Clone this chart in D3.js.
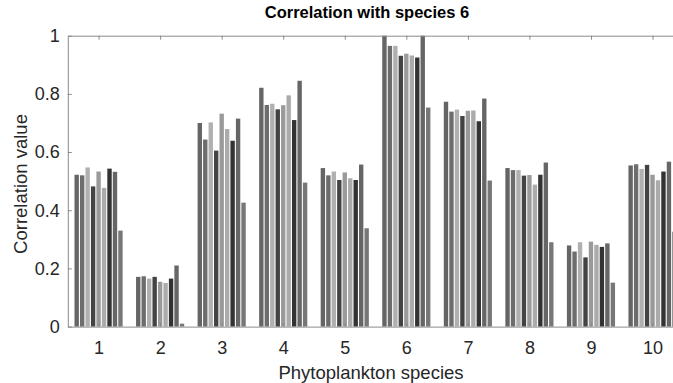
<!DOCTYPE html>
<html>
<head>
<meta charset="utf-8">
<script src="https://cdn.jsdelivr.net/npm/d3@7"></script>
<style>
  body { margin: 0; background: #fff; }
  svg { display: block; font-family: "Liberation Sans", Arial, sans-serif; }
</style>
</head>
<body>
<svg id="chart"></svg>
<script>
const species = [1, 2, 3, 4, 5, 6, 7, 8, 9, 10];
// one array per bar series (9 bars in each group)
const s1 = [0.522, 0.171, 0.700, 0.821, 0.545, 1.000, 0.773, 0.545, 0.279, 0.554];
const s2 = [0.520, 0.173, 0.643, 0.762, 0.520, 0.965, 0.739, 0.538, 0.258, 0.558];
const s3 = [0.547, 0.165, 0.702, 0.766, 0.533, 0.965, 0.746, 0.538, 0.290, 0.542];
const s4 = [0.482, 0.171, 0.605, 0.747, 0.504, 0.931, 0.724, 0.519, 0.238, 0.556];
const s5 = [0.533, 0.154, 0.732, 0.761, 0.530, 0.938, 0.742, 0.521, 0.292, 0.522];
const s6 = [0.477, 0.150, 0.679, 0.795, 0.510, 0.932, 0.743, 0.488, 0.281, 0.503];
const s7 = [0.543, 0.165, 0.639, 0.710, 0.504, 0.925, 0.706, 0.522, 0.274, 0.533];
const s8 = [0.532, 0.210, 0.715, 0.845, 0.557, 1.000, 0.784, 0.564, 0.286, 0.567];
const s9 = [0.330, 0.010, 0.426, 0.495, 0.338, 0.753, 0.502, 0.290, 0.151, 0.326];
const series = [s1, s2, s3, s4, s5, s6, s7, s8, s9];
const shades = ['#656565', '#6d6d6d', '#b0b0b0', '#434343', '#9a9a9a', '#ababab', '#333333', '#666666', '#777777'];
const yTicks = [0, 0.2, 0.4, 0.6, 0.8, 1];

const W = 673, H = 383;
const svg = d3.select('#chart').attr('width', W).attr('height', H);

const x = d3.scaleLinear().domain([0.5, 10.5]).range([67.8, 683.3]);
const y = d3.scaleLinear().domain([0, 1]).range([326.6, 35.7]);
const step = x(2) - x(1);
const inner = d3.scaleBand()
    .domain(d3.range(series.length))
    .range([-0.4 * step, 0.4 * step])
    .paddingInner(0.2)
    .paddingOuter(0.1);

const rows = [];
series.forEach((vals, i) => vals.forEach((v, g) => rows.push({s: i, sp: species[g], v})));

svg.append('g')
  .selectAll('rect')
  .data(rows)
  .join('rect')
    .attr('x', d => x(d.sp) + inner(d.s))
    .attr('y', d => y(d.v))
    .attr('width', inner.bandwidth())
    .attr('height', d => y(0) - y(d.v))
    .attr('fill', d => shades[d.s]);

const axisColor = '#8a8a8a';
const textColor = '#262626';

function style(g) {
  g.select('.domain').attr('stroke', axisColor);
  g.selectAll('.tick line').attr('stroke', axisColor);
  g.selectAll('.tick text').attr('fill', textColor).attr('font-size', 18);
}

// left axis
svg.append('g')
  .attr('transform', `translate(${x(0.5)},0)`)
  .call(d3.axisLeft(y).tickValues(yTicks).tickFormat(d3.format('~g')).tickSize(-4).tickSizeOuter(0).tickPadding(8))
  .call(style);

// bottom axis
svg.append('g')
  .attr('transform', `translate(0,${y(0)})`)
  .call(d3.axisBottom(x).tickValues(species).tickSize(-4).tickSizeOuter(0).tickPadding(15))
  .call(style);

// top border
svg.append('g')
  .attr('transform', `translate(0,${y(1)})`)
  .call(d3.axisTop(x).tickValues(species).tickFormat('').tickSize(-4).tickSizeOuter(0))
  .call(style);

svg.append('text')
  .attr('x', 367).attr('y', 18)
  .attr('text-anchor', 'middle')
  .attr('font-size', 16.5).attr('font-weight', 'bold')
  .attr('fill', '#000')
  .text('Correlation with species 6');

svg.append('text')
  .attr('x', 371).attr('y', 379)
  .attr('text-anchor', 'middle')
  .attr('font-size', 18.5)
  .attr('fill', textColor)
  .text('Phytoplankton species');

svg.append('text')
  .attr('transform', 'translate(27,184) rotate(-90)')
  .attr('text-anchor', 'middle')
  .attr('font-size', 18.5)
  .attr('fill', textColor)
  .text('Correlation value');
</script>
</body>
</html>
